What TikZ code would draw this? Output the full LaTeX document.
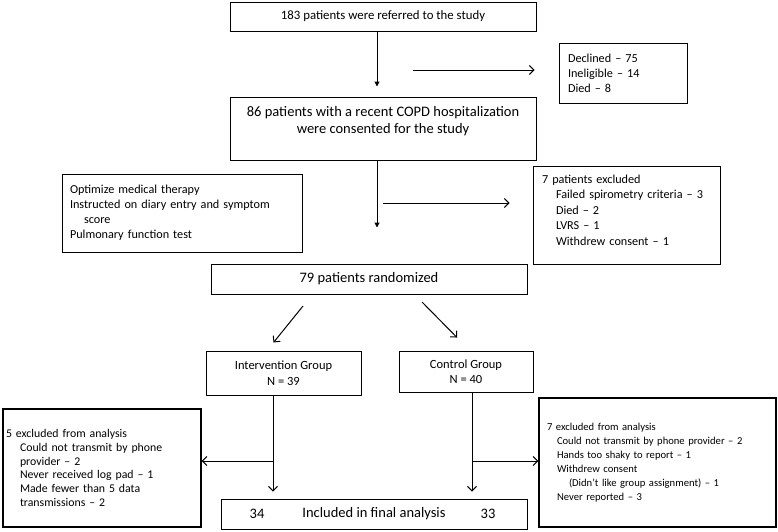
\documentclass[tikz,border=0pt]{standalone}
\usepackage{fontspec}
\setmainfont{Carlito}
\usetikzlibrary{arrows.meta}

\tikzset{
  box/.style={draw,line width=1pt,inner sep=0pt,align=center,font=\fontsize{14.5}{17.5}\selectfont},
  listbox/.style={draw,line width=1pt,inner ysep=0pt,align=left,font=\fontsize{12.2}{15}\selectfont},
  arr/.style={line width=1pt,-{Straight Barb[length=4.5pt,width=9pt]}},
  darr/.style={line width=1pt,-{Triangle[length=5pt,width=5pt]}},
}

\begin{document}
\begin{tikzpicture}[x=1pt,y=-1pt]
\useasboundingbox (0,0) rectangle (778,531);

\node[box,minimum width=306pt,minimum height=29pt,font=\fontsize{12.8}{15}\selectfont] (ref) at (383,16.5) {183 patients were referred to the study};
\node[box,minimum width=306pt,minimum height=63pt] (consent) at (383,128.5) {86 patients with a recent COPD hospitalization\\were consented for the study\\ ~};
\node[listbox,inner xsep=9pt,text width=110pt,minimum height=60pt] (declined) at (623,73) {Declined -- 75\\Ineligible -- 14\\Died -- 8};

\node[listbox,inner xsep=8pt,text width=224pt,minimum height=78pt] (optimize) at (182,213) {Optimize medical therapy\\Instructed on diary entry and symptom\\\hspace*{14pt}score\\Pulmonary function test};
\node[listbox,inner xsep=9pt,text width=169pt,minimum height=98pt,font=\fontsize{12.2}{15.5}\selectfont] (excl) at (626.5,215) {7 patients excluded\\\hspace*{14pt}Failed spirometry criteria -- 3\\\hspace*{14pt}Died -- 2\\\hspace*{14pt}LVRS -- 1\\\hspace*{14pt}Withdrew consent -- 1\\[-6pt] ~};

\node[box,minimum width=316pt,minimum height=30pt] (rand) at (369,279) {79 patients randomized};
\node[box,minimum width=155pt,minimum height=44pt,font=\fontsize{12.5}{15.5}\selectfont] (interv) at (283.5,373) {Intervention Group\\N = 39};
\node[box,minimum width=134pt,minimum height=41pt,font=\fontsize{12.5}{15.5}\selectfont] (control) at (466,371.5) {Control Group\\N = 40};

\node[listbox,line width=1.4pt,inner xsep=3pt,text width=192pt,minimum height=118pt,font=\fontsize{11.8}{13.7}\selectfont] (exclL) at (102,468) {5 excluded from analysis\\\hspace*{14pt}Could not transmit by phone\\\hspace*{14pt}provider -- 2\\\hspace*{14pt}Never received log pad -- 1\\\hspace*{14pt}Made fewer than 5 data\\\hspace*{14pt}transmissions -- 2};
\node[listbox,line width=1.4pt,inner xsep=8pt,text width=221pt,minimum height=129pt,font=\fontsize{10.6}{14}\selectfont] (exclR) at (657.5,462.5) {7 excluded from analysis\\\hspace*{10pt}Could not transmit by phone provider -- 2\\\hspace*{10pt}Hands too shaky to report -- 1\\\hspace*{10pt}Withdrew consent\\\hspace*{22pt}(Didn’t like group assignment) -- 1\\\hspace*{10pt}Never reported -- 3};

\node[draw,line width=1pt,minimum width=306pt,minimum height=30pt,inner sep=0pt] (final) at (374,514) {};
\node[font=\fontsize{14.5}{17}\selectfont] (n34) at (257,514) {34};
\node[font=\fontsize{14.5}{17}\selectfont] (inc) at (374,514) {Included in final analysis};
\node[font=\fontsize{14.5}{17}\selectfont] (n33) at (488,514) {33};

\coordinate (ax) at (377,0);
\coordinate (d1) at (413,70);
\coordinate (e1) at (383,203);
\coordinate (ra) at (303,306);
\coordinate (rb) at (422,302);
\coordinate (ia) at (273,461);
\coordinate (ca) at (472,461);

\draw[darr] (ref.south -| ax) -- ([yshift=10pt]consent.north -| ax);
\draw[arr] (d1) -- ([xshift=-24pt]d1 -| declined.west);
\draw[darr] (consent.south -| ax) -- ([yshift=36pt]rand.north -| ax);
\draw[arr] (e1) -- ([xshift=-23pt]e1 -| excl.west);
\draw[arr] (ra) -- ([xshift=-10pt,yshift=8pt]interv.north);
\draw[arr] (rb) -- ([xshift=-9pt,yshift=13pt]control.north);
\draw[arr] (interv.south -| ia) -- ([yshift=7pt]final.north -| ia);
\draw[arr] (ia) -- (ia -| exclL.east);
\draw[arr] (control.south -| ca) -- ([yshift=7pt]final.north -| ca);
\draw[arr] (ca) -- (ca -| exclR.west);
\end{tikzpicture}
\end{document}
